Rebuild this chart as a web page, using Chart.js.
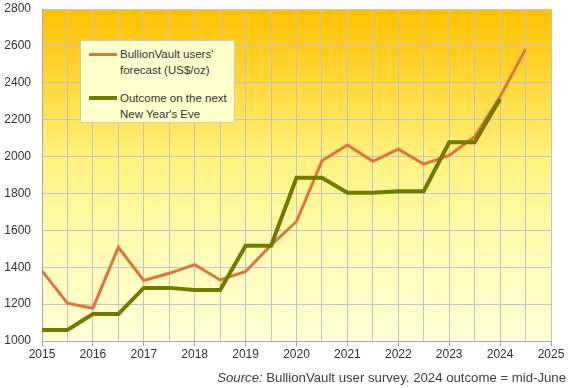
<!DOCTYPE html>
<html><head><meta charset="utf-8">
<script src="https://cdn.jsdelivr.net/npm/chart.js@4"></script>
<style>
html,body{margin:0;padding:0;background:#fff;}
#wrap{position:relative;width:568px;height:388px;overflow:hidden;}
canvas{position:absolute;left:0;top:0;}
#legend{position:absolute;left:80px;top:40px;width:155px;height:83px;box-sizing:border-box;background:#FFFFCC;border:1px solid #CFCFB0;font:11.5px "Liberation Sans",Arial,sans-serif;color:#333;}
.item{position:absolute;left:8px;}
.sw{position:absolute;left:0;width:28px;}
.tx{position:absolute;left:31px;white-space:nowrap;line-height:16px;}
#source{position:absolute;right:2px;top:370px;font:13.2px "Liberation Sans",Arial,sans-serif;color:#404040;white-space:nowrap;}
</style></head>
<body>
<div id="wrap">
<canvas id="c" width="568" height="388"></canvas>
<div id="legend">
  <div class="item" style="top:5px"><div class="sw" style="top:7px;height:3px;background:#E2733A"></div><div class="tx">BullionVault users'<br>forecast (US$/oz)</div></div>
  <div class="item" style="top:49px"><div class="sw" style="top:6px;height:4px;background:#6F7C00"></div><div class="tx">Outcome on the next<br>New Year's Eve</div></div>
</div>
<div id="source"><i>Source:</i> BullionVault user survey. 2024 outcome = mid-June</div>
</div>
<script>
const periods = [2015,2015.5,2016,2016.5,2017,2017.5,2018,2018.5,2019,2019.5,2020,2020.5,2021,2021.5,2022,2022.5,2023,2023.5,2024,2024.5];
const forecast = [1380,1205,1178,1508,1328,1367,1414,1331,1377,1520,1648,1977,2063,1974,2040,1959,2006,2107,2325,2582];
const outcome = [1060,1060,1146,1146,1288,1288,1277,1277,1517,1517,1885,1885,1804,1804,1812,1812,2077,2077,2312];
const xTicks = [2015,2016,2017,2018,2019,2020,2021,2022,2023,2024,2025];
const yTicks = [1000,1200,1400,1600,1800,2000,2200,2400,2600,2800];

const ORANGE = '#E2733A', GREEN = '#6F7C00', GRID = '#C4C4C4', TXT = '#333333';

const bgPlugin = {
  id:'bg',
  beforeDraw(chart){
    const {ctx, chartArea:a} = chart;
    const g = ctx.createLinearGradient(0,a.top,0,a.bottom);
    g.addColorStop(0,'#FFC000');
    g.addColorStop(0.22,'#FFD838');
    g.addColorStop(0.45,'#FFF27E');
    g.addColorStop(0.7,'#FFFCB0');
    g.addColorStop(1,'#FFFFD8');
    ctx.save(); ctx.fillStyle=g; ctx.fillRect(a.left,a.top,a.right-a.left,a.bottom-a.top); ctx.restore();
  }
};

new Chart(document.getElementById('c'), {
  type:'line',
  data:{datasets:[
    {label:"BullionVault users' forecast (US$/oz)", data: forecast.map((v,i)=>({x:periods[i],y:v})), borderColor:ORANGE, borderWidth:3, pointRadius:0, tension:0, fill:false, order:1},
    {label:"Outcome on the next New Year's Eve", data: outcome.map((v,i)=>({x:periods[i],y:v})), borderColor:GREEN, borderWidth:4, pointRadius:0, tension:0, fill:false, order:0}
  ]},
  options:{
    responsive:false, animation:false, devicePixelRatio:1,
    layout:{padding:{top:9,right:17,bottom:22,left:0}},
    plugins:{legend:{display:false}, tooltip:{enabled:false}},
    scales:{
      x:{type:'linear', min:xTicks[0], max:xTicks[xTicks.length-1],
        ticks:{stepSize:0.5, autoSkip:false, maxRotation:0, color:TXT, padding:1,
          font:{family:'"Liberation Sans", Arial, sans-serif', size:12},
          callback:v=> xTicks.includes(v) ? String(v) : ''},
        grid:{color:GRID, tickLength:5, tickColor:c=> (c.tick && xTicks.includes(c.tick.value)) ? '#A0A0A0' : 'rgba(0,0,0,0)'},
        border:{color:'#A8A8A8'},
        afterFit:s=>{s.height=25; s.paddingLeft=0; s.paddingRight=0;}},
      y:{min:yTicks[0], max:yTicks[yTicks.length-1],
        ticks:{stepSize:200, color:TXT, padding:11,
          font:{family:'"Liberation Sans", Arial, sans-serif', size:12},
          callback:v=> String(v)},
        grid:{color:GRID, drawTicks:false},
        border:{color:'#A8A8A8'},
        afterFit:s=>{s.width=42; s.paddingTop=0; s.paddingBottom=0;}}
    }
  },
  plugins:[bgPlugin]
});
</script>
</body></html>
